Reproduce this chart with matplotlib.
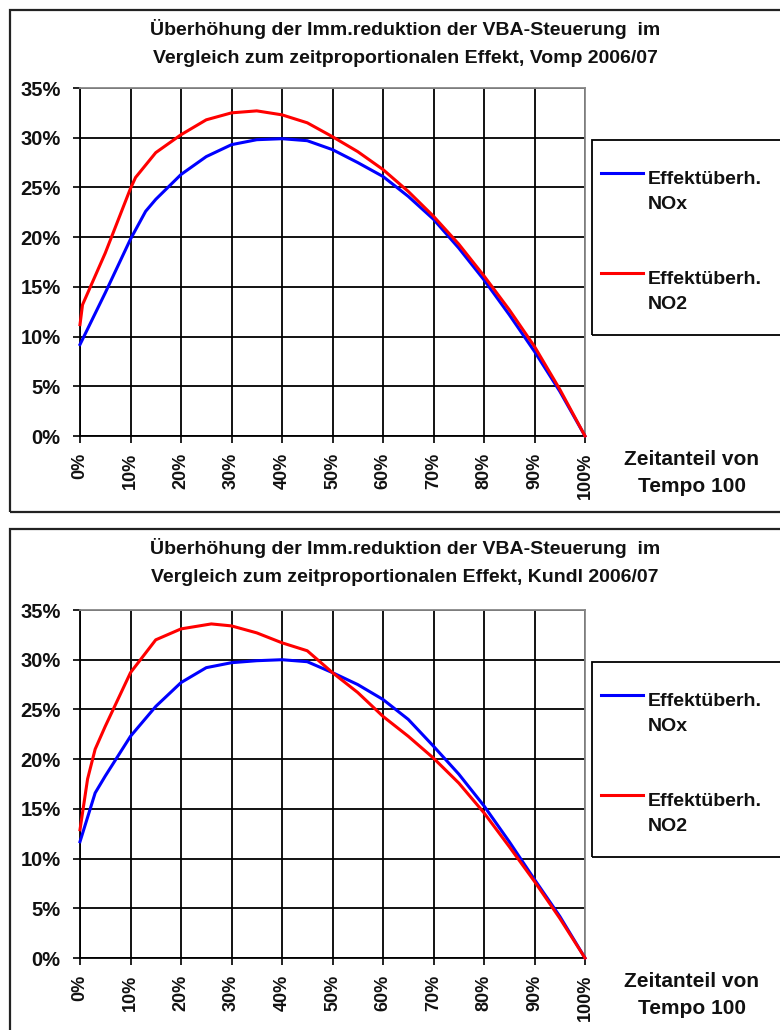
import matplotlib
matplotlib.use("Agg")
import matplotlib.pyplot as plt
from matplotlib.patches import Rectangle
from matplotlib.lines import Line2D
from matplotlib.ticker import FuncFormatter, MultipleLocator

plt.rcParams['font.family'] = ['Liberation Sans', 'DejaVu Sans']

# --- data (percent) ---
vomp_nox_x = [0, 5, 10, 13, 15, 20, 25, 30, 35, 40, 45, 50, 55, 60, 65, 70, 75, 80, 85, 90, 95, 100]
vomp_nox_y = [9.2, 14.4, 19.8, 22.6, 23.8, 26.3, 28.1, 29.3, 29.8, 29.9, 29.7, 28.8, 27.5, 26.1,
              24.1, 21.8, 18.9, 15.7, 12.2, 8.5, 4.5, 0.0]
vomp_no2_x = [0, 0.5, 5, 10, 11, 15, 20, 25, 30, 35, 40, 45, 50, 55, 60, 65, 70, 75, 80, 85, 90, 95, 100]
vomp_no2_y = [11.2, 13.2, 18.4, 24.9, 26.0, 28.5, 30.3, 31.8, 32.5, 32.7, 32.3, 31.5, 30.1, 28.6,
              26.8, 24.6, 22.1, 19.3, 16.1, 12.7, 9.0, 4.7, 0.0]

kundl_nox_x = [0, 3, 5, 10, 15, 20, 25, 30, 35, 40, 45, 50, 55, 60, 65, 70, 75, 80, 85, 90, 95, 100]
kundl_nox_y = [11.7, 16.6, 18.3, 22.3, 25.3, 27.7, 29.2, 29.7, 29.9, 30.0, 29.8, 28.7, 27.5, 26.0,
               24.0, 21.3, 18.5, 15.3, 11.7, 7.9, 4.2, 0.0]
kundl_no2_x = [0, 1.5, 3, 5, 10, 15, 20, 26, 30, 35, 40, 45, 50, 55, 60, 65, 70, 75, 80, 85, 90, 95, 100]
kundl_no2_y = [12.9, 18.0, 21.0, 23.3, 28.7, 32.0, 33.1, 33.6, 33.4, 32.7, 31.7, 30.9, 28.7, 26.7,
               24.3, 22.3, 20.1, 17.6, 14.6, 11.2, 7.7, 4.0, 0.0]

titles = ["Überhöhung der Imm.reduktion der VBA-Steuerung  im\nVergleich zum zeitproportionalen Effekt, Vomp 2006/07",
          "Überhöhung der Imm.reduktion der VBA-Steuerung  im\nVergleich zum zeitproportionalen Effekt, Kundl 2006/07"]
legend_labels = ["Effektüberh.\nNOx", "Effektüberh.\nNO2"]
xlabel = "Zeitanteil von\nTempo 100"

W, H = 780, 1030
fig = plt.figure(figsize=(7.8, 10.3), dpi=100)

def fx(px):
    return px / W

def fy(py):
    return 1 - py / H

panels = [
    dict(top=10, bottom=512, ax_top=88, ax_bot=436, leg_top=140, leg_bot=335,
         data=[(vomp_nox_x, vomp_nox_y), (vomp_no2_x, vomp_no2_y)], title=titles[0]),
    dict(top=529, bottom=1040, ax_top=610, ax_bot=958, leg_top=662, leg_bot=857,
         data=[(kundl_nox_x, kundl_nox_y), (kundl_no2_x, kundl_no2_y)], title=titles[1]),
]
colors = ["#0000ff", "#ff0000"]

for p in panels:
    # panel frame
    fig.patches.append(Rectangle((fx(10), fy(p['bottom'])), fx(800 - 10), (p['bottom'] - p['top']) / H,
                                 transform=fig.transFigure, fill=False, edgecolor='#222222', lw=1.6))
    ax = fig.add_axes([fx(80), fy(p['ax_bot']), fx(585 - 80), (p['ax_bot'] - p['ax_top']) / H])
    for (xs, ys), c in zip(p['data'], colors):
        ax.plot(xs, ys, color=c, lw=2.2, solid_joinstyle='round', zorder=3, clip_on=False)
    ax.set_xlim(0, 100)
    ax.set_ylim(0, 35)
    ax.xaxis.set_major_locator(MultipleLocator(10))
    ax.yaxis.set_major_locator(MultipleLocator(5))
    ax.xaxis.set_major_formatter(FuncFormatter(lambda v, pos: f"{int(round(v))}%"))
    ax.yaxis.set_major_formatter(FuncFormatter(lambda v, pos: f"{int(round(v))}%"))
    ax.grid(True, color='black', lw=1.3)
    ax.set_axisbelow(True)
    for s in ['left', 'bottom']:
        ax.spines[s].set_color('black')
        ax.spines[s].set_linewidth(1.3)
    for s in ['top', 'right']:
        ax.spines[s].set_color('#888888')
        ax.spines[s].set_linewidth(1.3)
    ax.tick_params(axis='both', direction='out', length=5, width=1.3, colors='#111111')
    ax.tick_params(axis='x', labelrotation=90, pad=7, labelsize=13)
    ax.tick_params(axis='y', pad=9, labelsize=14.5)
    for lab in ax.get_xticklabels() + ax.get_yticklabels():
        lab.set_fontweight('bold')

    # title
    fig.text(fx(405), fy(p['top'] + 33), p['title'], ha='center', va='center',
             fontsize=14, fontweight='bold', linespacing=1.85, color='#111111')
    # x axis label
    fig.text(fx(692), fy(p['ax_bot'] + 37), xlabel, ha='center', va='center',
             fontsize=15, fontweight='bold', linespacing=1.55, color='#111111')

    # legend box
    fig.patches.append(Rectangle((fx(592), fy(p['leg_bot'])), fx(800 - 592),
                                 (p['leg_bot'] - p['leg_top']) / H, transform=fig.transFigure,
                                 fill=False, edgecolor='black', lw=1.3))
    for i, (lab, c) in enumerate(zip(legend_labels, colors)):
        ly = p['leg_top'] + 33 + i * 100
        fig.lines.append(Line2D([fx(601), fx(643)], [fy(ly), fy(ly)], transform=fig.transFigure,
                                color=c, lw=2.2))
        fig.text(fx(648), fy(ly - 2), lab, ha='left', va='top', fontsize=14,
                 fontweight='bold', linespacing=1.65, color='#111111')

fig.savefig("out.png", dpi=100)
